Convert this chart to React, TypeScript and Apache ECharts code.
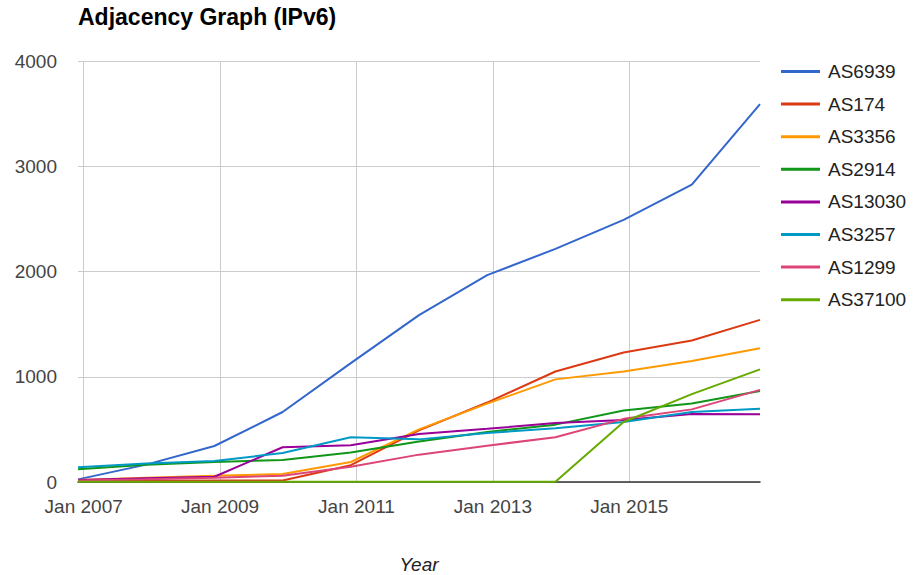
import React, { useEffect, useRef } from "react";
import * as echarts from "echarts";

// One sample per year, taken each December
const dates = [
  "2006-12", "2007-12", "2008-12", "2009-12", "2010-12", "2011-12",
  "2012-12", "2013-12", "2014-12", "2015-12", "2016-12",
];

const seriesNames = ["AS6939", "AS174", "AS3356", "AS2914", "AS13030", "AS3257", "AS1299", "AS37100"];

const as6939 = [25, 165, 342, 665, 1130, 1585, 1965, 2215, 2490, 2825, 3590];
const as174 = [10, 12, 15, 15, 160, 490, 755, 1050, 1230, 1345, 1540];
const as3356 = [20, 40, 60, 75, 190, 500, 745, 975, 1050, 1150, 1270];
const as2914 = [120, 165, 190, 210, 280, 385, 475, 545, 680, 745, 865];
const as13030 = [20, 35, 50, 330, 350, 455, 505, 560, 590, 645, 643];
const as3257 = [140, 175, 200, 275, 425, 405, 465, 510, 570, 665, 695];
const as1299 = [15, 25, 40, 60, 145, 260, 345, 425, 600, 690, 875];
const as37100 = [2, 2, 2, 2, 2, 2, 2, 2, 570, 835, 1070];

const seriesValues = [as6939, as174, as3356, as2914, as13030, as3257, as1299, as37100];
const seriesColors = ["#3366cc", "#dc3912", "#ff9900", "#109618", "#990099", "#0099c6", "#dd4477", "#66aa00"];

const xTickLabels = ["Jan 2007", "Jan 2009", "Jan 2011", "Jan 2013", "Jan 2015"];
const yTicks = [0, 1000, 2000, 3000, 4000];

// Dates become fractional years on a value axis ("2006-12" -> 2006 + 11/12)
const toYear = (d: string) => {
  const [y, m] = d.split("-").map(Number);
  return y + (m - 1) / 12;
};
const xValues = dates.map(toYear);
const xTickValues = xTickLabels.map((l) => Number(l.slice(4)));

const FONT = "'Liberation Sans', Arial, sans-serif";

export default function App() {
  const ref = useRef<HTMLDivElement>(null);

  useEffect(() => {
    document.body.style.margin = "0";
    const chart = echarts.init(ref.current!, null, { renderer: "svg" });
    chart.setOption({
      animation: false,
      backgroundColor: "#ffffff",
      textStyle: { fontFamily: FONT },
      title: {
        text: "Adjacency Graph (IPv6)",
        left: 78,
        top: 5,
        padding: 0,
        textStyle: { fontFamily: FONT, fontSize: 23, fontWeight: "bold", color: "#000000" },
      },
      legend: {
        orient: "vertical",
        left: 781,
        top: 62,
        padding: 0,
        icon: "rect",
        itemWidth: 39,
        itemHeight: 3,
        itemGap: 13.6,
        data: seriesNames,
        textStyle: { fontFamily: FONT, fontSize: 19, color: "#222222", padding: [0, 0, 0, 3] },
      },
      grid: {
        left: 78,
        right: 153,
        top: 61,
        bottom: 93,
        containLabel: false,
        outerBoundsMode: "none",
      },
      xAxis: {
        type: "value",
        min: xValues[0],
        max: xValues[xValues.length - 1],
        name: "Year",
        nameLocation: "middle",
        nameGap: 73,
        nameTextStyle: { fontFamily: FONT, fontSize: 19, fontStyle: "italic", color: "#222222" },
        axisLine: { show: true, lineStyle: { color: "#333333", width: 1.5 } },
        axisTick: { show: false, customValues: xTickValues },
        axisLabel: {
          customValues: xTickValues,
          fontFamily: FONT,
          fontSize: 19,
          color: "#444444",
          margin: 15,
          formatter: (v: number) => {
            const i = xTickValues.indexOf(Math.round(v));
            return i >= 0 ? xTickLabels[i] : "";
          },
        },
        splitLine: { show: true, lineStyle: { color: "#cccccc", width: 1 } },
      },
      yAxis: {
        type: "value",
        min: yTicks[0],
        max: yTicks[yTicks.length - 1],
        interval: 1000,
        axisLine: { show: false },
        axisTick: { show: false },
        axisLabel: {
          fontFamily: FONT,
          fontSize: 19,
          color: "#444444",
          margin: 21,
          formatter: (v: number) => String(v),
        },
        splitLine: { show: true, lineStyle: { color: "#cccccc", width: 1 } },
      },
      series: seriesNames.map((name, i) => ({
        name,
        type: "line",
        symbol: "none",
        color: seriesColors[i],
        lineStyle: { width: 2, color: seriesColors[i] },
        data: xValues.map((x, j) => [x, seriesValues[i][j]]),
      })),
    });
    return () => chart.dispose();
  }, []);

  return <div ref={ref} style={{ width: 913, height: 575 }} />;
}
